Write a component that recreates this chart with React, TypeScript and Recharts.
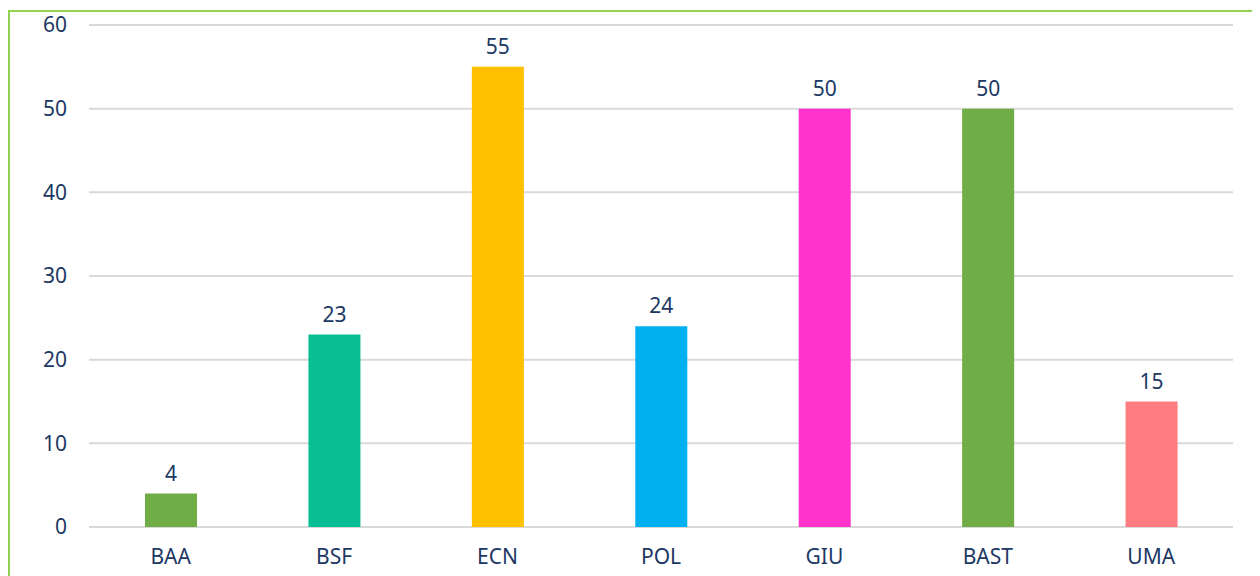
import { BarChart, Bar, XAxis, YAxis, CartesianGrid, Cell, LabelList } from 'recharts'

const categories = ['BAA', 'BSF', 'ECN', 'POL', 'GIU', 'BAST', 'UMA']
const values = [4, 23, 55, 24, 50, 50, 15]
const colors = ['#70AD47', '#07BF92', '#FFC000', '#00B0F0', '#FF33CC', '#70AD47', '#FF7C80']
const yTicks = [0, 10, 20, 30, 40, 50, 60]

const data = categories.map((name, i) => ({ name, value: values[i] }))

const textColor = '#203864'
const font = '"Noto Sans", sans-serif'

export default function App() {
    return (
        <div
            style={{
                marginTop: 2,
                width: 1250,
                height: 564,
                borderLeft: '2px solid #92D050',
                borderTop: '2px solid #92D050',
                fontFamily: font,
            }}
        >
            {/* chart starts a little above the border so the top tick has room */}
            <div style={{ marginTop: -6, width: 1250, height: 570 }}>
                <BarChart
                    width={1250}
                    height={570}
                    data={data}
                    margin={{ top: 19, right: 27, bottom: 19, left: 0 }}
                >
                    <CartesianGrid stroke="#D9D9D9" strokeWidth={2} vertical={false} />
                    <XAxis
                        dataKey="name"
                        axisLine={false}
                        tickLine={false}
                        height={30}
                        tickMargin={16}
                        tick={{ fill: textColor, fontSize: 21, fontFamily: font }}
                    />
                    <YAxis
                        domain={[0, 60]}
                        ticks={yTicks}
                        axisLine={false}
                        tickLine={false}
                        width={79}
                        tickMargin={16}
                        tick={{ fill: textColor, fontSize: 21, fontFamily: font }}
                    />
                    <Bar dataKey="value" barSize={52} isAnimationActive={false}>
                        {data.map((d, i) => (
                            <Cell key={d.name} fill={colors[i]} />
                        ))}
                        <LabelList
                            dataKey="value"
                            position="top"
                            offset={13}
                            fill={textColor}
                            fontSize={21}
                            fontFamily={font}
                        />
                    </Bar>
                </BarChart>
            </div>
        </div>
    )
}
